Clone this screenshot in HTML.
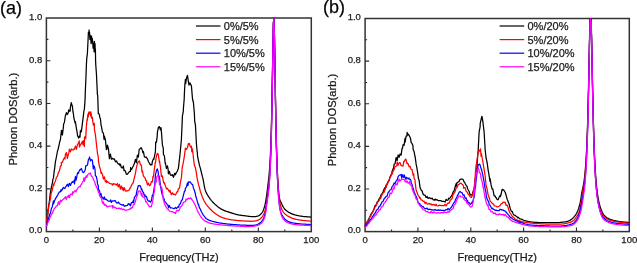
<!DOCTYPE html>
<html><head><meta charset="utf-8"><style>
html,body{margin:0;padding:0;background:#fff;}
svg{display:block;will-change:transform;}
text{font-family:"Liberation Sans",sans-serif;fill:#1a1a1a;stroke:#1a1a1a;stroke-width:0.25px;}
.frame{fill:none;stroke:#333;stroke-width:1.5;}
.tick{fill:none;stroke:#2b2b2b;stroke-width:1.1;}
.tl{font-size:9.5px;}
.lt{font-size:11px;}
.at{font-size:11.2px;}
.pl{font-size:18px;fill:#000;}
.cv path{fill:none;stroke-width:1.25;stroke-linejoin:round;}
.lg{stroke-width:1.2;}
</style></head><body>
<svg width="637" height="263" viewBox="0 0 637 263">
<rect width="637" height="263" fill="#fff"/>
<rect x="46.4" y="18.0" width="264.9" height="213.6" class="frame"/>
<path d="M72.89 231.60 V229.60 M99.38 231.60 V227.60 M125.87 231.60 V229.60 M152.36 231.60 V227.60 M178.85 231.60 V229.60 M205.34 231.60 V227.60 M231.83 231.60 V229.60 M258.32 231.60 V227.60 M284.81 231.60 V229.60 M46.40 210.24 H48.40 M46.40 188.88 H50.40 M46.40 167.52 H48.40 M46.40 146.16 H50.40 M46.40 124.80 H48.40 M46.40 103.44 H50.40 M46.40 82.08 H48.40 M46.40 60.72 H50.40 M46.40 39.36 H48.40" class="tick"/>
<text x="46.40" y="243.00" class="tl" text-anchor="middle">0</text>
<text x="99.38" y="243.00" class="tl" text-anchor="middle">20</text>
<text x="152.36" y="243.00" class="tl" text-anchor="middle">40</text>
<text x="205.34" y="243.00" class="tl" text-anchor="middle">60</text>
<text x="258.32" y="243.00" class="tl" text-anchor="middle">80</text>
<text x="311.30" y="243.00" class="tl" text-anchor="middle">100</text>
<text x="42.20" y="233.40" class="tl" text-anchor="end">0.0</text>
<text x="42.20" y="190.68" class="tl" text-anchor="end">0.2</text>
<text x="42.20" y="147.96" class="tl" text-anchor="end">0.4</text>
<text x="42.20" y="105.24" class="tl" text-anchor="end">0.6</text>
<text x="42.20" y="62.52" class="tl" text-anchor="end">0.8</text>
<text x="42.20" y="19.80" class="tl" text-anchor="end">1.0</text>
<rect x="365.1" y="18.5" width="264.2" height="213.1" class="frame"/>
<path d="M391.52 231.60 V229.60 M417.94 231.60 V227.60 M444.36 231.60 V229.60 M470.78 231.60 V227.60 M497.20 231.60 V229.60 M523.62 231.60 V227.60 M550.04 231.60 V229.60 M576.46 231.60 V227.60 M602.88 231.60 V229.60 M365.10 210.29 H367.10 M365.10 188.98 H369.10 M365.10 167.67 H367.10 M365.10 146.36 H369.10 M365.10 125.05 H367.10 M365.10 103.74 H369.10 M365.10 82.43 H367.10 M365.10 61.12 H369.10 M365.10 39.81 H367.10" class="tick"/>
<text x="365.10" y="243.00" class="tl" text-anchor="middle">0</text>
<text x="417.94" y="243.00" class="tl" text-anchor="middle">20</text>
<text x="470.78" y="243.00" class="tl" text-anchor="middle">40</text>
<text x="523.62" y="243.00" class="tl" text-anchor="middle">60</text>
<text x="576.46" y="243.00" class="tl" text-anchor="middle">80</text>
<text x="629.30" y="243.00" class="tl" text-anchor="middle">100</text>
<text x="360.90" y="233.40" class="tl" text-anchor="end">0.0</text>
<text x="360.90" y="190.78" class="tl" text-anchor="end">0.2</text>
<text x="360.90" y="148.16" class="tl" text-anchor="end">0.4</text>
<text x="360.90" y="105.54" class="tl" text-anchor="end">0.6</text>
<text x="360.90" y="62.92" class="tl" text-anchor="end">0.8</text>
<text x="360.90" y="20.30" class="tl" text-anchor="end">1.0</text>
<g class="cv"><path d="M46.4 221.8 L47.0 219.7 L47.4 217.7 L48.4 207.9 L49.0 203.9 L49.4 201.3 L50.4 192.4 L50.9 189.9 L51.4 187.2 L52.4 182.8 L52.9 179.4 L53.4 178.1 L54.4 169.5 L54.6 169.0 L55.4 161.9 L56.4 157.0 L57.4 151.5 L58.4 148.1 L59.4 143.3 L60.3 139.7 L60.4 140.0 L61.4 130.5 L61.8 130.6 L62.4 135.0 L63.4 126.9 L63.6 124.1 L64.4 122.4 L65.4 115.5 L65.6 115.3 L66.4 112.6 L66.6 112.6 L67.3 114.5 L67.4 114.4 L68.4 112.2 L68.7 109.9 L69.4 111.2 L70.1 111.1 L70.4 107.1 L71.3 102.7 L71.4 103.1 L72.2 105.9 L72.4 106.3 L73.0 112.0 L73.4 113.6 L73.8 117.7 L74.4 120.1 L75.2 123.3 L75.4 121.7 L76.4 128.3 L77.4 134.0 L77.5 135.8 L78.4 137.3 L78.6 138.1 L79.4 136.0 L80.0 137.3 L80.4 130.5 L81.0 132.0 L81.4 131.5 L82.4 123.3 L83.4 115.4 L83.8 111.7 L84.4 108.9 L85.0 100.9 L85.4 89.8 L86.0 76.0 L86.4 65.0 L86.7 58.9 L87.4 53.7 L88.2 36.7 L88.4 32.4 L88.7 34.7 L89.0 32.1 L89.1 30.0 L89.3 31.9 L89.6 32.7 L89.8 38.1 L89.9 39.4 L90.2 35.3 L90.5 38.7 L90.6 35.5 L90.8 39.2 L91.1 43.6 L91.4 40.5 L91.5 36.2 L91.7 39.6 L92.0 42.2 L92.3 38.6 L92.3 38.4 L92.6 41.5 L92.9 44.8 L93.1 48.1 L93.2 48.1 L93.5 47.4 L93.8 43.0 L94.1 51.8 L94.4 41.3 L94.6 43.7 L94.7 47.6 L95.0 43.5 L95.3 52.4 L95.4 49.0 L95.6 61.0 L95.8 65.2 L95.9 66.5 L96.4 73.5 L96.6 77.0 L97.4 94.7 L97.7 95.3 L98.3 113.5 L98.4 113.1 L99.4 114.6 L99.8 117.5 L100.4 118.7 L101.1 125.5 L101.4 126.2 L102.4 132.0 L103.4 133.1 L104.0 139.3 L104.4 136.2 L105.4 140.0 L106.4 149.6 L106.8 149.3 L107.4 145.1 L108.4 148.4 L109.4 158.6 L109.7 156.2 L110.4 154.2 L111.4 159.2 L112.4 158.3 L113.4 159.2 L114.4 158.9 L115.4 161.9 L116.4 160.9 L117.4 162.9 L118.4 164.2 L119.4 163.8 L120.1 165.7 L120.4 164.2 L121.4 167.7 L122.4 168.0 L123.4 166.0 L124.0 170.7 L124.4 170.1 L125.4 171.2 L126.4 174.4 L127.4 174.2 L128.4 172.8 L129.4 171.7 L130.4 171.5 L130.6 167.5 L131.4 169.7 L132.4 167.8 L133.4 165.8 L134.4 163.6 L135.4 159.3 L136.4 162.6 L137.4 155.2 L138.4 157.0 L139.2 149.3 L139.4 149.4 L140.4 148.5 L141.0 147.7 L141.4 147.9 L142.4 150.6 L143.0 152.9 L143.4 151.5 L144.4 156.8 L145.4 157.4 L146.4 157.1 L146.8 158.0 L147.4 158.8 L148.4 161.5 L149.4 163.2 L150.4 165.0 L150.6 164.3 L151.4 164.5 L151.9 164.9 L152.4 161.2 L153.4 159.0 L153.8 159.4 L154.4 156.6 L155.4 151.9 L155.7 142.2 L156.4 142.4 L157.2 136.3 L157.4 132.3 L158.4 127.3 L158.9 127.0 L159.4 126.6 L160.4 129.8 L161.0 127.7 L161.4 131.6 L162.4 144.8 L163.3 148.3 L163.4 154.5 L164.4 155.9 L165.2 163.5 L165.4 162.9 L166.4 168.5 L167.4 165.9 L168.1 169.2 L168.4 173.8 L169.4 171.4 L170.4 175.2 L171.4 175.0 L171.9 175.4 L172.4 174.7 L173.4 177.3 L174.4 174.0 L174.7 173.4 L175.4 174.8 L176.4 172.4 L177.4 171.4 L177.6 170.1 L178.4 168.4 L179.4 159.4 L179.5 158.9 L180.4 150.3 L181.4 139.5 L182.3 119.6 L182.4 116.1 L183.3 111.4 L183.4 108.8 L184.2 99.0 L184.4 93.3 L184.8 85.5 L185.4 79.5 L185.7 83.6 L186.4 78.5 L187.4 75.4 L187.5 75.6 L188.4 81.7 L189.0 85.2 L189.4 83.8 L189.9 82.8 L190.4 84.1 L191.4 85.6 L192.4 97.8 L192.8 100.3 L193.4 102.3 L194.1 110.4 L194.4 113.8 L194.7 121.6 L195.4 124.5 L196.4 143.3 L197.1 151.3 L197.4 152.7 L197.5 155.9 L198.4 160.3 L199.4 165.1 L200.4 168.4 L201.4 172.5 L202.4 176.7 L203.2 179.7 L203.4 181.0 L204.4 186.5 L204.9 188.9 L205.1 189.6 L205.4 190.5 L205.9 191.8 L206.4 192.9 L206.9 193.9 L207.4 194.8 L207.9 195.7 L208.4 196.4 L208.9 197.2 L209.4 197.9 L209.9 198.6 L210.4 199.3 L210.9 199.9 L211.4 200.6 L211.9 201.1 L212.4 201.7 L212.9 202.2 L213.4 202.7 L213.9 203.2 L214.4 203.7 L214.6 203.9 L214.9 204.2 L215.4 204.6 L215.9 205.1 L216.4 205.5 L216.9 205.9 L217.4 206.4 L217.9 206.8 L218.4 207.2 L218.9 207.5 L219.4 207.9 L219.9 208.2 L220.4 208.6 L220.9 208.9 L221.4 209.2 L221.9 209.4 L222.2 209.6 L222.4 209.7 L222.9 209.9 L223.4 210.2 L223.9 210.4 L224.4 210.6 L224.9 210.8 L225.4 210.9 L225.9 211.1 L226.4 211.3 L226.9 211.5 L227.4 211.6 L227.9 211.8 L228.4 211.9 L228.9 212.1 L229.4 212.3 L229.8 212.4 L229.9 212.4 L230.4 212.6 L230.9 212.8 L231.4 212.9 L231.9 213.1 L232.4 213.3 L232.9 213.4 L233.4 213.6 L233.9 213.7 L234.4 213.9 L234.9 214.0 L235.4 214.2 L235.9 214.3 L236.4 214.4 L236.9 214.6 L237.4 214.7 L237.5 214.7 L237.9 214.8 L238.4 214.9 L238.9 215.0 L239.4 215.0 L239.9 215.1 L240.4 215.2 L240.9 215.3 L241.4 215.3 L241.9 215.4 L242.4 215.5 L242.9 215.5 L243.4 215.6 L243.9 215.6 L244.4 215.7 L244.9 215.8 L245.1 215.8 L245.4 215.8 L245.9 215.9 L246.4 216.0 L246.9 216.1 L247.4 216.1 L247.9 216.2 L248.4 216.3 L248.9 216.3 L249.4 216.4 L249.9 216.4 L250.4 216.5 L250.9 216.5 L251.4 216.6 L251.9 216.6 L252.4 216.6 L252.7 216.6 L252.9 216.6 L253.4 216.6 L253.9 216.6 L254.4 216.6 L254.9 216.6 L255.4 216.5 L255.9 216.5 L256.4 216.4 L256.9 216.3 L257.4 216.2 L257.9 216.0 L258.4 215.8 L258.9 215.6 L259.4 215.2 L259.9 214.9 L260.4 214.5 L260.9 214.0 L261.4 213.4 L261.9 212.8 L262.2 212.4 L262.4 212.1 L262.9 211.2 L263.4 210.0 L263.9 208.6 L264.4 207.0 L264.9 205.2 L265.0 204.8 L265.4 203.0 L265.9 200.1 L266.4 196.8 L266.9 193.4 L267.4 189.5 L267.9 185.3 L268.3 182.0 L268.4 181.2 L268.9 176.8 L269.4 171.3 L269.9 164.2 L270.4 155.0 L270.9 142.5 L271.4 125.8 L271.9 103.8 L272.4 76.2 L272.9 46.3 L273.4 22.6 L273.9 18.0 L274.4 33.3 L274.9 63.1 L275.4 94.9 L275.9 122.3 L276.4 144.0 L276.9 160.4 L277.4 172.8 L277.9 182.1 L278.4 189.1 L278.7 192.5 L278.9 194.4 L279.4 197.9 L279.9 200.0 L280.4 201.4 L280.9 202.2 L281.4 203.1 L281.8 204.0 L281.9 204.3 L282.4 205.4 L282.9 206.4 L283.4 207.3 L283.9 208.0 L284.4 208.7 L284.9 209.2 L285.4 209.7 L285.9 210.2 L286.0 210.3 L286.4 210.6 L286.9 211.0 L287.4 211.4 L287.9 211.7 L288.4 212.1 L288.9 212.4 L289.4 212.7 L289.9 212.9 L290.4 213.2 L290.9 213.4 L291.4 213.7 L291.9 213.9 L292.4 214.1 L292.9 214.3 L293.3 214.4 L293.4 214.4 L293.9 214.6 L294.4 214.7 L294.9 214.9 L295.4 215.0 L295.9 215.1 L296.4 215.3 L296.9 215.4 L297.4 215.5 L297.9 215.6 L298.4 215.7 L298.9 215.8 L299.4 215.9 L299.9 216.0 L300.4 216.1 L300.9 216.1 L301.4 216.2 L301.9 216.3 L302.4 216.3 L302.9 216.4 L303.4 216.5 L303.8 216.5 L303.9 216.5 L304.4 216.6 L304.9 216.6 L305.4 216.6 L305.9 216.7 L306.4 216.7 L306.9 216.8 L307.4 216.8 L307.9 216.8 L308.4 216.9 L308.9 216.9 L309.4 216.9 L309.9 217.0 L310.4 217.0 L310.9 217.0 L311.0 217.0" stroke="#000000"/>
<path d="M46.4 222.4 L47.4 215.7 L48.4 210.6 L48.9 204.7 L49.4 203.5 L50.4 198.6 L51.4 192.0 L51.7 191.7 L52.4 189.5 L53.4 184.3 L53.6 185.9 L54.4 183.0 L55.4 181.2 L56.4 177.4 L57.4 176.4 L58.4 172.4 L59.4 171.1 L60.4 166.2 L61.2 166.0 L61.4 162.3 L62.4 162.4 L63.4 159.5 L64.4 157.7 L65.0 158.9 L65.4 154.3 L66.4 152.6 L67.4 158.3 L68.4 154.0 L68.8 153.2 L69.4 149.1 L70.4 151.8 L71.4 149.0 L72.4 149.9 L73.4 149.8 L74.4 148.4 L74.5 149.2 L75.4 146.1 L76.4 149.3 L77.4 144.7 L78.4 143.3 L79.3 140.9 L79.4 147.1 L80.4 144.8 L81.4 143.5 L82.4 141.3 L83.0 144.9 L83.4 140.7 L84.4 146.5 L84.5 137.5 L85.4 136.4 L85.7 138.6 L86.4 126.1 L87.1 119.0 L87.4 120.3 L87.6 116.8 L87.9 114.2 L88.2 117.1 L88.5 115.1 L88.5 115.3 L88.8 112.1 L89.1 113.6 L89.4 112.3 L89.7 112.0 L89.7 111.8 L90.0 114.3 L90.3 114.2 L90.6 115.9 L90.9 111.8 L91.0 115.9 L91.2 113.5 L91.5 117.5 L91.8 118.1 L92.4 117.2 L92.6 120.1 L93.4 125.2 L93.5 123.7 L94.3 123.4 L94.4 129.3 L95.4 134.6 L96.4 143.9 L97.4 152.8 L98.3 157.1 L98.4 160.6 L99.4 166.3 L100.4 169.6 L101.1 173.3 L101.4 172.2 L102.4 174.2 L103.4 179.0 L104.4 176.8 L105.4 181.8 L106.4 180.6 L106.8 182.5 L107.4 181.6 L108.4 182.2 L109.4 183.4 L110.4 183.7 L111.4 183.9 L112.4 184.4 L112.5 185.1 L113.4 183.6 L114.4 184.1 L115.4 184.2 L116.4 185.1 L117.4 183.5 L118.2 186.9 L118.4 186.5 L119.4 184.3 L120.4 189.0 L121.4 186.0 L122.4 189.5 L123.0 187.7 L123.4 190.7 L124.4 187.8 L125.4 191.0 L126.4 191.1 L126.8 190.7 L127.4 190.9 L128.4 190.5 L129.4 189.8 L130.4 187.4 L130.6 187.6 L131.4 185.4 L132.4 183.7 L133.4 182.5 L133.5 181.2 L134.4 177.6 L135.4 173.6 L136.3 168.2 L136.4 167.8 L137.4 163.6 L138.4 161.6 L139.2 161.2 L139.4 160.8 L140.4 164.9 L141.4 165.2 L142.0 172.0 L142.4 170.9 L143.4 175.8 L144.4 177.3 L145.4 178.5 L145.8 180.5 L146.4 180.5 L147.4 184.9 L148.4 183.1 L149.4 185.7 L149.6 185.2 L150.4 185.1 L151.4 181.5 L152.4 181.9 L152.9 176.6 L153.4 177.0 L154.4 168.6 L155.3 162.4 L155.4 162.8 L156.4 156.2 L157.4 153.3 L157.6 153.3 L158.4 155.3 L159.4 162.3 L159.5 160.9 L160.4 166.9 L161.4 176.6 L162.4 175.9 L163.4 181.9 L164.3 183.6 L164.4 182.7 L165.4 186.1 L166.2 187.9 L166.4 189.0 L167.4 188.4 L168.4 190.0 L169.4 191.9 L170.0 190.2 L170.4 192.0 L171.4 194.7 L172.4 192.7 L173.4 194.5 L173.8 194.2 L174.4 194.3 L175.4 195.0 L176.4 193.0 L177.4 191.2 L177.6 191.8 L178.4 188.8 L179.4 188.0 L179.5 188.2 L180.4 182.1 L181.4 177.9 L182.3 166.5 L182.4 167.0 L183.4 162.1 L184.4 155.8 L185.2 149.8 L185.4 148.1 L186.4 149.5 L187.4 147.7 L188.4 143.5 L189.0 144.5 L189.4 143.5 L190.4 147.2 L191.4 146.2 L191.8 151.8 L192.4 148.8 L193.4 157.8 L194.4 165.4 L194.7 165.8 L195.4 167.7 L196.4 173.1 L197.4 180.0 L197.5 180.0 L198.4 184.2 L199.4 187.7 L200.4 191.5 L201.4 194.4 L202.4 197.3 L203.4 199.2 L204.2 201.0 L204.4 201.4 L204.9 202.2 L205.4 203.0 L205.9 203.8 L206.4 204.6 L206.9 205.2 L207.4 205.9 L207.9 206.5 L208.4 207.1 L208.9 207.7 L209.4 208.3 L209.9 208.8 L210.4 209.3 L210.9 209.8 L211.4 210.3 L211.9 210.8 L212.4 211.2 L212.9 211.7 L213.4 212.1 L213.9 212.5 L214.4 212.9 L214.6 213.0 L214.9 213.2 L215.4 213.6 L215.9 213.9 L216.4 214.3 L216.9 214.6 L217.4 215.0 L217.9 215.3 L218.4 215.6 L218.9 215.9 L219.4 216.2 L219.9 216.5 L220.4 216.7 L220.9 217.0 L221.4 217.2 L221.9 217.4 L222.2 217.5 L222.4 217.6 L222.9 217.8 L223.4 217.9 L223.9 218.1 L224.4 218.2 L224.9 218.4 L225.4 218.5 L225.9 218.7 L226.4 218.8 L226.9 218.9 L227.4 219.0 L227.9 219.1 L228.4 219.2 L228.9 219.3 L229.4 219.4 L229.8 219.5 L229.9 219.5 L230.4 219.6 L230.9 219.7 L231.4 219.8 L231.9 219.8 L232.4 219.9 L232.9 220.0 L233.4 220.0 L233.9 220.1 L234.4 220.2 L234.9 220.2 L235.4 220.3 L235.9 220.3 L236.4 220.4 L236.9 220.4 L237.4 220.5 L237.5 220.5 L237.9 220.5 L238.4 220.6 L238.9 220.6 L239.4 220.7 L239.9 220.7 L240.4 220.7 L240.9 220.8 L241.4 220.8 L241.9 220.8 L242.4 220.9 L242.9 220.9 L243.4 220.9 L243.9 220.9 L244.4 221.0 L244.9 221.0 L245.1 221.0 L245.4 221.0 L245.9 221.0 L246.4 221.1 L246.9 221.1 L247.4 221.1 L247.9 221.2 L248.4 221.2 L248.9 221.2 L249.4 221.2 L249.9 221.3 L250.4 221.3 L250.9 221.3 L251.4 221.3 L251.9 221.2 L252.4 221.2 L252.7 221.2 L252.9 221.2 L253.4 221.1 L253.9 221.1 L254.4 221.0 L254.9 221.0 L255.4 220.9 L255.9 220.8 L256.4 220.7 L256.9 220.5 L257.4 220.4 L257.9 220.2 L258.4 220.0 L258.9 219.7 L259.4 219.4 L259.9 219.1 L260.4 218.7 L260.9 218.2 L261.4 217.7 L261.9 217.1 L262.4 216.4 L262.9 215.6 L263.1 215.3 L263.4 214.8 L263.9 213.7 L264.4 212.5 L264.9 211.0 L265.4 209.2 L265.9 207.2 L266.0 206.7 L266.4 204.2 L266.9 200.0 L267.4 195.4 L267.9 191.5 L268.4 187.9 L268.9 183.4 L269.4 177.7 L269.9 170.3 L270.4 160.5 L270.9 147.5 L271.4 130.1 L271.9 107.2 L272.4 78.6 L272.9 47.6 L273.4 22.9 L273.9 18.0 L274.4 32.7 L274.9 62.7 L275.4 94.7 L275.9 122.3 L276.4 144.0 L276.9 160.4 L277.4 172.9 L277.9 182.2 L278.4 189.4 L278.9 194.9 L279.1 196.7 L279.4 199.1 L279.9 202.3 L280.4 204.7 L280.9 206.6 L281.4 208.1 L281.8 209.2 L281.9 209.5 L282.4 210.6 L282.9 211.5 L283.4 212.2 L283.9 212.9 L284.4 213.4 L284.9 213.9 L285.4 214.3 L285.9 214.7 L286.4 215.1 L286.9 215.4 L287.0 215.5 L287.4 215.8 L287.9 216.1 L288.4 216.4 L288.9 216.7 L289.4 216.9 L289.9 217.2 L290.4 217.4 L290.9 217.7 L291.4 217.9 L291.9 218.1 L292.4 218.3 L292.9 218.5 L293.4 218.6 L293.9 218.8 L294.4 218.9 L294.9 219.1 L295.4 219.2 L295.9 219.3 L296.4 219.4 L296.9 219.5 L297.4 219.6 L297.9 219.7 L298.4 219.8 L298.9 219.9 L299.4 220.0 L299.9 220.0 L300.4 220.1 L300.9 220.2 L301.4 220.2 L301.9 220.3 L302.4 220.4 L302.9 220.4 L303.4 220.5 L303.9 220.5 L304.4 220.6 L304.9 220.6 L305.4 220.7 L305.9 220.7 L306.4 220.8 L306.9 220.8 L307.4 220.9 L307.9 220.9 L308.4 220.9 L308.9 221.0 L309.4 221.0 L309.9 221.0 L310.4 221.1 L310.9 221.1 L311.0 221.1" stroke="#ff0000"/>
<path d="M46.4 226.3 L47.4 221.6 L48.4 219.0 L49.4 215.5 L49.8 214.2 L50.4 213.1 L51.4 208.6 L52.4 206.4 L53.4 200.9 L53.6 203.9 L54.4 201.3 L55.4 198.8 L56.4 197.2 L57.4 195.7 L58.4 193.6 L59.4 191.9 L60.4 191.8 L61.2 189.5 L61.4 191.0 L62.4 189.4 L63.4 187.4 L64.4 188.4 L65.0 188.4 L65.4 187.2 L66.4 185.9 L67.4 184.2 L68.4 186.5 L68.8 184.9 L69.4 183.3 L70.4 185.4 L71.4 183.1 L72.4 181.6 L72.6 182.4 L73.4 182.0 L74.4 180.0 L74.5 183.9 L75.4 176.5 L76.0 180.2 L76.4 178.9 L77.4 173.3 L78.1 172.4 L78.4 173.4 L79.4 170.4 L80.0 169.7 L80.4 169.9 L81.4 168.4 L82.4 171.6 L83.3 172.5 L83.4 172.3 L84.4 171.9 L85.4 169.1 L85.7 165.9 L86.4 165.7 L87.4 164.9 L87.6 164.5 L88.4 159.6 L89.4 158.1 L89.5 157.0 L90.4 160.4 L90.5 160.9 L91.4 159.6 L91.9 159.7 L92.4 160.6 L93.3 168.9 L93.4 165.4 L94.4 166.7 L95.0 169.3 L95.4 175.8 L96.4 176.5 L97.3 181.4 L97.4 183.4 L98.3 185.7 L98.4 189.9 L99.4 190.4 L100.4 195.0 L101.1 193.7 L101.4 196.4 L102.4 197.3 L103.4 199.1 L104.4 196.9 L104.9 199.3 L105.4 199.1 L106.4 199.4 L107.4 200.5 L108.4 201.2 L109.4 201.2 L110.4 201.2 L110.6 199.8 L111.4 202.5 L112.4 200.8 L113.4 201.0 L114.4 200.7 L115.4 200.9 L116.4 202.8 L117.4 203.1 L118.2 202.2 L118.4 202.2 L119.4 203.5 L120.4 204.2 L121.4 204.8 L122.0 204.5 L122.4 205.2 L123.4 204.7 L124.4 206.3 L125.4 205.7 L125.8 205.8 L126.4 205.7 L127.4 205.5 L128.4 203.6 L129.4 204.6 L129.7 204.0 L130.4 205.8 L131.4 202.7 L132.4 202.6 L133.4 200.5 L133.5 202.7 L134.4 197.4 L135.4 196.0 L136.3 195.0 L136.4 193.2 L137.4 189.0 L138.2 186.0 L138.4 185.7 L139.4 185.5 L139.5 185.9 L140.4 185.9 L141.4 189.5 L142.0 189.2 L142.4 191.6 L143.4 192.2 L144.4 196.0 L144.9 194.9 L145.4 196.6 L146.4 196.4 L147.4 199.7 L148.4 201.2 L148.7 201.2 L149.4 201.0 L150.4 202.1 L150.6 202.0 L151.4 200.6 L152.4 195.1 L152.9 195.9 L153.4 192.5 L154.4 186.8 L154.8 183.6 L155.4 175.2 L155.7 173.6 L156.4 170.9 L157.2 168.9 L157.4 169.2 L158.2 171.9 L158.4 174.7 L159.4 176.9 L159.5 177.6 L160.4 185.2 L161.4 191.0 L162.4 195.3 L163.4 197.8 L164.3 199.3 L164.4 200.8 L165.4 202.1 L166.4 203.3 L167.4 205.0 L168.1 205.0 L168.4 207.8 L169.4 205.6 L170.4 208.0 L171.4 207.8 L172.4 208.0 L173.4 208.5 L173.8 208.6 L174.4 208.6 L175.4 207.5 L176.4 208.6 L177.4 207.4 L178.4 206.3 L178.5 207.3 L179.4 204.2 L180.4 203.9 L181.4 200.3 L182.3 200.0 L182.4 199.1 L183.4 195.3 L184.4 191.5 L185.2 190.5 L185.4 188.4 L186.4 187.0 L187.4 183.2 L188.0 185.5 L188.4 181.9 L189.4 182.2 L189.9 181.9 L190.4 182.0 L191.4 184.0 L192.4 184.3 L192.8 185.1 L193.4 187.9 L194.4 190.5 L195.4 193.8 L195.6 195.7 L196.4 198.0 L197.4 201.6 L198.4 205.0 L198.5 204.2 L199.4 207.7 L200.4 209.3 L201.4 211.8 L202.3 213.3 L202.4 213.6 L203.4 215.1 L204.4 216.5 L204.9 217.2 L205.4 217.7 L205.9 218.2 L206.4 218.7 L206.9 219.0 L207.0 219.1 L207.4 219.3 L207.9 219.6 L208.4 219.9 L208.9 220.1 L209.4 220.3 L209.9 220.5 L210.4 220.7 L210.9 220.9 L211.4 221.0 L211.9 221.2 L212.4 221.3 L212.9 221.5 L213.4 221.6 L213.9 221.7 L214.4 221.9 L214.6 221.9 L214.9 222.0 L215.4 222.1 L215.9 222.2 L216.4 222.3 L216.9 222.4 L217.4 222.5 L217.9 222.6 L218.4 222.7 L218.9 222.8 L219.4 222.9 L219.9 223.0 L220.4 223.0 L220.9 223.1 L221.4 223.2 L221.9 223.3 L222.4 223.3 L222.9 223.4 L223.4 223.5 L223.9 223.5 L224.4 223.6 L224.9 223.7 L225.4 223.7 L225.9 223.8 L226.0 223.8 L226.4 223.8 L226.9 223.9 L227.4 224.0 L227.9 224.0 L228.4 224.1 L228.9 224.1 L229.4 224.2 L229.9 224.2 L230.4 224.3 L230.9 224.3 L231.4 224.3 L231.9 224.4 L232.4 224.4 L232.9 224.5 L233.4 224.5 L233.9 224.5 L234.4 224.6 L234.9 224.6 L235.4 224.6 L235.9 224.7 L236.4 224.7 L236.9 224.8 L237.4 224.8 L237.5 224.8 L237.9 224.8 L238.4 224.9 L238.9 224.9 L239.4 224.9 L239.9 225.0 L240.4 225.0 L240.9 225.0 L241.4 225.0 L241.9 225.1 L242.4 225.1 L242.9 225.1 L243.4 225.1 L243.9 225.2 L244.4 225.2 L244.9 225.2 L245.4 225.2 L245.9 225.2 L246.4 225.3 L246.9 225.3 L247.4 225.3 L247.9 225.3 L248.4 225.3 L248.9 225.3 L249.4 225.3 L249.9 225.3 L250.4 225.3 L250.9 225.3 L251.4 225.4 L251.9 225.4 L252.4 225.4 L252.9 225.4 L253.4 225.3 L253.9 225.3 L254.4 225.2 L254.9 225.2 L255.4 225.1 L255.9 225.0 L256.4 224.8 L256.5 224.8 L256.9 224.7 L257.4 224.5 L257.9 224.2 L258.4 224.0 L258.9 223.7 L259.4 223.4 L259.9 223.0 L260.4 222.6 L260.9 222.2 L261.2 221.9 L261.4 221.7 L261.9 221.1 L262.4 220.4 L262.9 219.6 L263.4 218.6 L263.9 217.5 L264.4 216.1 L264.9 214.6 L265.0 214.3 L265.4 212.5 L265.9 209.2 L266.4 205.2 L266.9 201.3 L267.4 197.8 L267.5 197.2 L267.9 194.8 L268.4 191.1 L268.9 186.7 L269.4 180.9 L269.9 173.5 L270.4 163.7 L270.9 150.5 L271.4 132.8 L271.9 109.5 L272.4 80.5 L272.9 48.9 L273.4 23.8 L273.9 18.0 L274.4 34.1 L274.9 64.7 L275.4 97.4 L275.9 125.7 L276.4 147.9 L276.9 164.8 L277.4 177.6 L277.9 187.3 L278.4 194.7 L278.9 200.5 L279.4 204.9 L279.7 207.1 L279.9 208.4 L280.4 210.9 L280.9 212.6 L281.4 213.9 L281.9 214.9 L282.4 215.7 L282.9 216.5 L283.4 217.3 L283.9 218.0 L284.4 218.6 L284.9 219.2 L285.4 219.6 L285.9 220.0 L286.4 220.4 L286.9 220.7 L287.4 221.0 L287.9 221.3 L288.4 221.5 L288.9 221.7 L289.1 221.8 L289.4 221.9 L289.9 222.1 L290.4 222.3 L290.9 222.4 L291.4 222.6 L291.9 222.7 L292.4 222.8 L292.9 222.9 L293.4 223.0 L293.9 223.1 L294.4 223.2 L294.9 223.2 L295.4 223.3 L295.9 223.4 L296.4 223.4 L296.9 223.5 L297.4 223.6 L297.9 223.6 L298.4 223.7 L298.9 223.7 L299.4 223.8 L299.6 223.8 L299.9 223.8 L300.4 223.9 L300.9 223.9 L301.4 224.0 L301.9 224.0 L302.4 224.0 L302.9 224.1 L303.4 224.1 L303.9 224.1 L304.4 224.2 L304.9 224.2 L305.4 224.2 L305.9 224.3 L306.4 224.3 L306.9 224.3 L307.4 224.3 L307.9 224.4 L308.4 224.4 L308.9 224.4 L309.4 224.4 L309.9 224.5 L310.4 224.5 L310.9 224.5 L311.0 224.5" stroke="#0000ff"/>
<path d="M46.4 226.6 L47.4 223.5 L48.4 221.4 L49.4 219.6 L49.8 217.7 L50.4 216.9 L51.4 214.3 L52.4 213.3 L53.4 210.2 L53.6 210.4 L54.4 208.3 L55.4 207.8 L56.4 205.8 L57.4 205.8 L58.4 201.6 L59.4 204.6 L60.4 200.1 L61.2 201.6 L61.4 201.2 L62.4 200.0 L63.4 199.3 L64.4 197.8 L65.0 198.2 L65.4 196.6 L66.4 199.3 L67.4 196.1 L68.4 197.1 L68.8 195.2 L69.4 197.8 L70.4 194.4 L71.4 193.9 L72.4 194.8 L72.6 191.8 L73.4 193.0 L74.4 191.1 L75.4 190.7 L76.0 191.9 L76.4 190.3 L77.4 188.9 L78.4 187.2 L79.4 186.5 L80.2 187.0 L80.4 185.7 L81.4 184.4 L82.1 182.9 L82.4 182.2 L83.4 180.9 L84.0 177.7 L84.4 181.3 L85.4 177.9 L86.4 175.9 L86.9 177.4 L87.4 175.2 L88.4 174.1 L89.4 173.4 L90.1 173.6 L90.4 173.0 L91.4 176.2 L92.4 176.9 L93.4 179.0 L93.5 179.8 L94.4 181.3 L95.4 184.6 L96.4 186.6 L97.4 188.6 L98.4 192.4 L99.2 191.9 L99.4 195.1 L100.4 197.3 L101.4 197.7 L102.4 202.9 L103.0 203.6 L103.4 201.8 L104.4 205.2 L105.4 204.4 L106.4 206.5 L106.8 205.7 L107.4 206.8 L108.4 206.6 L109.4 206.2 L110.4 206.1 L111.4 206.0 L112.4 205.6 L112.5 208.1 L113.4 206.0 L114.4 207.8 L115.4 207.3 L116.4 208.5 L117.4 208.3 L118.2 208.1 L118.4 208.6 L119.4 208.1 L120.4 209.1 L121.4 208.2 L122.4 209.6 L123.4 209.4 L124.0 209.1 L124.4 209.8 L125.4 210.1 L126.4 210.1 L126.8 210.1 L127.4 210.0 L128.4 209.7 L129.4 209.3 L130.4 208.4 L130.6 209.1 L131.4 207.6 L132.4 207.9 L133.4 204.3 L134.4 204.3 L135.4 201.3 L136.4 197.7 L137.3 195.6 L137.4 195.2 L138.4 191.7 L139.2 190.7 L139.4 190.8 L140.4 191.2 L141.4 195.7 L142.0 193.2 L142.4 196.8 L143.4 197.3 L144.4 197.4 L145.4 199.9 L145.8 201.8 L146.4 201.7 L147.4 203.5 L148.4 205.2 L149.4 206.8 L149.6 206.7 L150.4 206.5 L151.4 206.6 L151.5 206.0 L152.4 202.2 L152.9 200.2 L153.4 196.1 L154.4 191.2 L154.8 185.8 L155.4 182.4 L156.3 182.1 L156.4 177.6 L157.4 176.0 L158.0 175.3 L158.4 176.4 L159.4 183.2 L159.5 184.6 L160.4 185.5 L161.4 187.2 L162.0 188.4 L162.4 191.2 L163.3 199.9 L163.4 198.5 L164.4 203.8 L165.4 205.6 L166.4 207.5 L167.1 208.7 L167.4 209.0 L168.4 209.6 L169.4 211.0 L170.4 211.4 L171.4 211.7 L172.4 211.7 L173.4 212.4 L173.8 212.3 L174.4 212.4 L175.4 213.5 L176.4 211.1 L177.4 210.3 L178.4 211.0 L178.5 210.7 L179.4 209.9 L180.4 207.0 L181.4 206.1 L182.3 204.8 L182.4 204.6 L183.4 202.5 L184.4 201.8 L185.4 201.7 L186.1 199.0 L186.4 200.0 L187.4 199.4 L188.4 198.1 L189.4 198.7 L190.4 198.5 L190.5 197.8 L191.4 198.6 L192.4 200.4 L193.4 201.7 L193.7 201.7 L194.4 204.1 L195.4 205.2 L196.4 208.3 L196.6 208.7 L197.4 210.6 L198.4 212.6 L199.4 214.3 L200.4 216.1 L201.4 217.5 L202.4 218.7 L203.4 219.8 L204.4 220.5 L204.9 220.9 L205.1 221.0 L205.4 221.2 L205.9 221.4 L206.4 221.7 L206.9 221.9 L207.4 222.2 L207.9 222.4 L208.4 222.6 L208.9 222.8 L209.4 222.9 L209.9 223.1 L210.4 223.3 L210.9 223.4 L211.4 223.5 L211.9 223.6 L212.4 223.7 L212.7 223.8 L212.9 223.8 L213.4 223.9 L213.9 224.0 L214.4 224.1 L214.9 224.2 L215.4 224.2 L215.9 224.3 L216.4 224.4 L216.9 224.4 L217.4 224.5 L217.9 224.6 L218.4 224.6 L218.9 224.7 L219.4 224.7 L219.9 224.8 L220.4 224.8 L220.9 224.9 L221.4 224.9 L221.9 224.9 L222.4 225.0 L222.9 225.0 L223.4 225.1 L223.9 225.1 L224.4 225.2 L224.9 225.2 L225.4 225.2 L225.9 225.3 L226.0 225.3 L226.4 225.3 L226.9 225.4 L227.4 225.4 L227.9 225.5 L228.4 225.5 L228.9 225.5 L229.4 225.6 L229.9 225.6 L230.4 225.6 L230.9 225.7 L231.4 225.7 L231.9 225.8 L232.4 225.8 L232.9 225.8 L233.4 225.8 L233.9 225.9 L234.4 225.9 L234.9 225.9 L235.4 226.0 L235.9 226.0 L236.4 226.0 L236.9 226.1 L237.4 226.1 L237.5 226.1 L237.9 226.1 L238.4 226.2 L238.9 226.2 L239.4 226.2 L239.9 226.2 L240.4 226.3 L240.9 226.3 L241.4 226.3 L241.9 226.3 L242.4 226.4 L242.9 226.4 L243.4 226.4 L243.9 226.4 L244.4 226.5 L244.9 226.5 L245.4 226.5 L245.9 226.5 L246.4 226.5 L246.9 226.5 L247.4 226.5 L247.9 226.5 L248.4 226.5 L248.9 226.5 L249.4 226.5 L249.9 226.5 L250.4 226.5 L250.9 226.4 L251.4 226.4 L251.9 226.4 L252.4 226.4 L252.9 226.3 L253.4 226.3 L253.9 226.2 L254.4 226.1 L254.9 226.1 L255.4 226.0 L255.9 225.9 L256.4 225.7 L256.5 225.7 L256.9 225.6 L257.4 225.4 L257.9 225.3 L258.4 225.1 L258.9 224.8 L259.4 224.6 L259.9 224.3 L260.4 224.0 L260.9 223.6 L261.2 223.4 L261.4 223.2 L261.9 222.7 L262.4 222.0 L262.9 221.3 L263.4 220.3 L263.9 219.2 L264.4 218.0 L264.9 216.5 L265.0 216.2 L265.4 214.4 L265.9 211.1 L266.4 207.2 L266.9 203.2 L267.4 199.7 L267.5 199.1 L267.9 196.6 L268.4 193.0 L268.9 188.4 L269.4 182.6 L269.9 175.0 L270.4 165.0 L270.9 151.6 L271.4 133.7 L271.9 110.2 L272.4 80.8 L272.9 48.9 L273.4 23.6 L273.9 18.0 L274.4 33.6 L274.9 64.2 L275.4 97.0 L275.9 125.3 L276.4 147.6 L276.9 164.5 L277.4 177.3 L277.9 187.0 L278.4 194.5 L278.9 200.3 L279.4 204.9 L279.9 208.5 L280.4 211.3 L280.9 213.5 L281.4 215.2 L281.9 216.5 L282.4 217.5 L282.9 218.4 L283.4 219.1 L283.9 219.7 L284.4 220.3 L284.9 220.8 L285.4 221.2 L285.9 221.6 L286.4 222.0 L286.9 222.2 L287.4 222.5 L287.9 222.7 L288.4 222.9 L288.9 223.1 L289.4 223.3 L289.9 223.4 L290.4 223.6 L290.9 223.7 L291.2 223.8 L291.4 223.9 L291.9 224.0 L292.4 224.1 L292.9 224.2 L293.4 224.3 L293.9 224.4 L294.4 224.5 L294.9 224.5 L295.4 224.6 L295.9 224.7 L296.4 224.7 L296.9 224.8 L297.4 224.8 L297.9 224.9 L298.4 224.9 L298.9 224.9 L299.4 225.0 L299.9 225.0 L300.4 225.1 L300.9 225.1 L301.4 225.1 L301.9 225.1 L302.4 225.2 L302.9 225.2 L303.4 225.2 L303.9 225.2 L304.4 225.3 L304.9 225.3 L305.4 225.3 L305.9 225.3 L306.4 225.3 L306.9 225.4 L307.4 225.4 L307.9 225.4 L308.4 225.4 L308.9 225.4 L309.4 225.4 L309.9 225.5 L310.4 225.5 L310.9 225.5 L311.0 225.5" stroke="#ff00ff"/>
<path d="M365.1 225.8 L365.2 225.4 L366.1 223.8 L367.1 221.9 L368.1 220.3 L369.1 218.4 L370.1 216.5 L370.3 215.7 L371.1 214.1 L372.1 212.7 L373.1 211.0 L374.1 208.5 L375.1 205.5 L376.1 204.8 L376.6 204.4 L377.1 202.1 L378.1 201.3 L379.1 198.9 L380.1 197.2 L380.7 196.2 L381.1 194.7 L382.1 193.6 L383.1 191.8 L384.1 189.1 L384.9 187.6 L385.1 189.1 L386.1 185.1 L387.1 184.3 L388.1 181.4 L389.1 180.5 L390.1 176.6 L390.2 177.0 L391.1 174.7 L391.7 173.5 L392.1 171.3 L393.1 169.1 L393.7 167.2 L394.1 164.3 L395.1 163.7 L396.1 157.7 L397.0 158.0 L397.1 160.6 L398.1 155.0 L399.1 157.3 L400.1 154.0 L400.5 154.2 L401.1 155.2 L402.1 148.1 L402.5 148.1 L403.1 144.7 L404.1 145.3 L405.0 138.4 L405.1 142.1 L406.1 136.2 L407.0 135.9 L407.1 132.4 L408.1 134.9 L408.5 134.4 L409.1 135.5 L410.1 137.3 L410.7 139.3 L411.1 142.3 L412.1 143.7 L413.0 145.7 L413.1 149.4 L414.1 151.6 L415.0 156.7 L415.1 156.3 L416.1 163.9 L416.7 166.9 L417.1 169.2 L418.1 175.7 L418.5 178.8 L419.1 180.3 L420.1 187.8 L420.5 188.3 L421.1 190.1 L422.1 190.9 L422.9 193.9 L423.1 194.0 L424.1 195.2 L425.1 195.2 L426.1 197.4 L426.7 197.4 L427.1 196.4 L428.1 198.5 L429.1 197.7 L430.1 198.1 L431.1 198.8 L431.4 198.5 L432.1 198.1 L433.1 199.8 L434.1 199.8 L435.0 200.1 L435.1 199.1 L436.1 199.9 L437.1 199.7 L438.1 200.5 L439.0 200.5 L439.1 200.6 L440.1 200.7 L441.1 200.7 L442.1 201.4 L443.1 201.3 L443.8 201.3 L444.1 201.4 L445.1 202.1 L446.1 199.3 L447.1 200.4 L448.1 200.0 L448.6 198.2 L449.1 198.9 L450.1 197.8 L451.1 196.3 L452.1 194.8 L453.1 192.3 L453.3 191.6 L454.1 191.0 L455.1 187.0 L456.1 183.7 L456.2 186.4 L457.1 182.5 L458.1 182.2 L459.0 181.6 L459.1 181.1 L460.1 179.4 L461.1 179.2 L461.9 179.1 L462.1 179.0 L463.1 179.5 L464.1 181.9 L464.7 182.3 L465.1 183.5 L466.1 185.3 L467.1 186.5 L467.6 188.8 L468.1 189.7 L469.1 191.4 L470.1 194.7 L471.1 195.1 L471.4 195.1 L472.1 194.6 L473.1 191.6 L474.1 189.5 L474.2 189.5 L475.1 179.7 L476.1 173.4 L476.8 171.4 L477.1 164.5 L478.0 152.0 L478.1 151.6 L479.1 132.1 L480.1 126.9 L480.2 123.5 L481.1 119.6 L481.8 116.4 L482.1 116.9 L483.1 123.2 L483.2 124.5 L484.1 131.7 L485.0 146.8 L485.1 149.1 L486.1 158.4 L486.2 158.3 L487.1 162.4 L488.1 169.8 L489.1 175.6 L490.0 181.4 L490.1 178.5 L491.1 184.9 L492.1 189.0 L492.8 189.0 L493.1 190.4 L494.1 195.8 L495.1 195.9 L495.7 197.5 L496.1 197.6 L497.1 199.5 L497.8 199.8 L498.1 199.7 L499.1 197.2 L500.1 195.5 L500.4 196.6 L501.1 194.3 L502.1 189.3 L503.1 190.1 L503.3 189.8 L504.1 190.5 L505.1 192.2 L505.2 192.2 L506.1 195.2 L507.1 199.2 L508.0 201.0 L508.1 201.8 L509.1 204.0 L510.1 208.2 L511.1 210.8 L511.8 211.7 L512.1 211.3 L513.1 213.8 L514.1 215.1 L515.1 215.3 L516.1 216.2 L517.1 216.7 L517.5 217.8 L518.1 217.3 L519.1 218.2 L520.1 219.0 L521.1 219.2 L522.1 219.4 L523.1 220.0 L524.1 220.4 L525.1 220.7 L526.1 220.9 L527.1 221.2 L528.1 221.4 L529.1 221.6 L529.6 221.7 L530.1 221.8 L530.6 221.9 L531.1 221.9 L531.6 222.0 L532.1 222.1 L532.6 222.1 L533.1 222.2 L533.6 222.2 L534.1 222.3 L534.6 222.3 L535.1 222.3 L535.6 222.4 L536.1 222.4 L536.6 222.4 L537.1 222.4 L537.6 222.4 L538.1 222.5 L538.6 222.5 L539.1 222.5 L539.6 222.5 L540.1 222.5 L540.6 222.5 L541.1 222.5 L541.6 222.5 L542.1 222.5 L542.6 222.6 L543.1 222.6 L543.6 222.6 L544.1 222.6 L544.6 222.6 L545.1 222.6 L545.6 222.6 L546.0 222.6 L546.1 222.6 L546.6 222.6 L547.1 222.6 L547.6 222.6 L548.1 222.6 L548.6 222.7 L549.1 222.7 L549.6 222.7 L550.1 222.7 L550.6 222.7 L551.1 222.7 L551.6 222.7 L552.1 222.7 L552.6 222.7 L553.1 222.7 L553.6 222.7 L554.1 222.7 L554.6 222.7 L555.1 222.7 L555.6 222.7 L556.1 222.7 L556.6 222.6 L557.1 222.6 L557.5 222.6 L557.6 222.6 L558.1 222.6 L558.6 222.5 L559.1 222.5 L559.6 222.5 L560.1 222.4 L560.6 222.4 L561.1 222.3 L561.6 222.3 L562.1 222.2 L562.6 222.2 L563.1 222.1 L563.6 222.1 L564.1 222.0 L564.6 221.9 L565.1 221.8 L565.6 221.8 L566.1 221.7 L566.6 221.6 L567.0 221.5 L567.1 221.5 L567.6 221.3 L568.1 221.2 L568.6 221.0 L569.1 220.7 L569.6 220.5 L570.1 220.2 L570.6 219.9 L571.1 219.5 L571.6 219.2 L572.1 218.8 L572.6 218.4 L572.7 218.3 L573.1 217.9 L573.6 217.5 L574.1 216.9 L574.6 216.3 L575.1 215.6 L575.6 214.9 L576.1 214.1 L576.6 213.2 L577.1 212.2 L577.4 211.6 L577.6 211.2 L578.1 209.9 L578.6 208.5 L579.1 206.8 L579.6 205.0 L580.1 203.0 L580.3 202.1 L580.6 200.5 L581.1 197.3 L581.6 193.9 L582.1 191.1 L582.2 190.7 L582.6 189.1 L583.1 186.7 L583.6 184.0 L584.1 180.7 L584.6 176.8 L585.1 172.0 L585.6 166.1 L586.1 158.8 L586.6 149.5 L587.1 137.9 L587.6 123.3 L588.1 105.2 L588.6 83.4 L589.1 58.9 L589.6 34.7 L590.1 18.5 L590.6 18.5 L591.1 18.5 L591.6 36.6 L592.1 61.7 L592.6 87.1 L593.1 109.8 L593.6 128.8 L594.1 144.2 L594.6 156.6 L595.1 166.6 L595.6 174.6 L596.1 181.1 L596.6 186.5 L597.1 190.9 L597.3 192.5 L597.6 194.6 L598.1 197.8 L598.6 200.4 L599.1 202.7 L599.6 204.7 L600.1 206.5 L600.3 207.1 L600.6 208.0 L601.1 209.4 L601.6 210.6 L602.1 211.8 L602.6 212.8 L603.1 213.7 L603.6 214.5 L604.1 215.2 L604.4 215.5 L604.6 215.7 L605.1 216.2 L605.6 216.7 L606.1 217.1 L606.6 217.4 L607.1 217.8 L607.6 218.1 L608.1 218.3 L608.6 218.6 L609.1 218.8 L609.6 219.1 L610.1 219.3 L610.6 219.5 L611.1 219.6 L611.3 219.7 L611.6 219.8 L612.1 220.0 L612.6 220.1 L613.1 220.3 L613.6 220.4 L614.1 220.5 L614.6 220.6 L615.1 220.7 L615.6 220.8 L616.1 220.9 L616.6 221.0 L617.1 221.1 L617.6 221.2 L618.1 221.3 L618.6 221.4 L619.1 221.5 L619.6 221.5 L620.1 221.6 L620.6 221.7 L621.1 221.7 L621.6 221.8 L621.8 221.8 L622.1 221.8 L622.6 221.9 L623.1 221.9 L623.6 222.0 L624.1 222.0 L624.6 222.1 L625.1 222.1 L625.6 222.2 L626.1 222.2 L626.6 222.2 L627.1 222.3 L627.6 222.3 L628.1 222.3 L628.6 222.4 L629.0 222.4 L629.1 222.4" stroke="#000000"/>
<path d="M365.1 226.0 L365.2 226.5 L366.1 224.1 L367.1 222.3 L368.1 220.5 L369.1 218.8 L370.1 216.6 L370.3 216.7 L371.1 214.9 L372.1 213.1 L373.1 211.5 L374.1 209.3 L375.1 206.9 L376.1 205.8 L376.6 203.8 L377.1 203.4 L378.1 201.4 L379.1 200.8 L380.1 197.8 L380.7 198.5 L381.1 196.9 L382.1 194.6 L383.1 192.9 L384.1 192.2 L384.9 190.0 L385.1 188.1 L386.1 187.7 L387.0 183.7 L387.1 185.0 L388.1 182.4 L389.1 180.0 L390.1 176.9 L391.1 175.9 L391.7 172.9 L392.1 174.3 L393.1 171.1 L394.1 169.7 L395.1 166.3 L396.1 166.1 L397.0 165.6 L397.1 162.0 L398.1 165.2 L399.1 162.8 L399.7 162.6 L400.1 162.8 L401.1 165.5 L401.7 165.9 L402.1 165.9 L403.1 166.0 L403.7 161.5 L404.1 161.8 L405.1 159.9 L405.7 159.0 L406.1 160.0 L407.0 163.7 L407.1 162.6 L408.1 163.8 L409.1 166.8 L409.7 166.1 L410.1 166.5 L411.1 169.4 L411.7 169.5 L412.1 169.8 L413.1 175.1 L413.7 173.7 L414.1 178.5 L415.0 179.8 L415.1 181.7 L416.1 190.0 L416.2 190.5 L417.1 192.5 L418.1 195.4 L419.1 196.6 L420.0 198.5 L420.1 197.5 L421.1 200.0 L422.1 200.2 L423.1 201.3 L424.1 201.2 L425.1 203.6 L425.7 202.6 L426.1 202.3 L427.1 204.0 L428.1 204.0 L429.1 203.4 L430.1 204.3 L431.1 203.9 L432.1 205.2 L433.1 204.3 L433.3 204.5 L434.1 204.5 L435.1 205.7 L436.1 204.2 L437.1 206.0 L438.1 205.8 L439.1 205.4 L440.1 205.2 L441.1 205.7 L442.1 205.6 L442.8 205.6 L443.1 205.6 L444.1 205.6 L445.1 204.2 L446.1 206.0 L447.1 204.1 L448.1 202.9 L448.6 203.3 L449.1 203.2 L450.1 200.7 L451.1 199.5 L452.1 198.6 L453.1 194.2 L453.3 194.7 L454.1 193.2 L455.1 191.7 L456.1 188.2 L457.1 187.5 L458.1 184.5 L459.1 184.5 L460.1 183.1 L460.3 183.3 L461.1 183.3 L462.1 184.3 L463.1 185.1 L463.8 188.3 L464.1 187.6 L465.1 187.7 L466.1 191.2 L467.1 192.1 L467.6 193.3 L468.1 194.0 L469.1 195.0 L470.1 196.8 L471.1 197.4 L471.4 197.6 L472.1 196.1 L473.0 193.6 L473.1 192.0 L474.1 188.0 L474.5 184.2 L475.1 177.8 L475.7 168.9 L476.1 165.7 L476.8 161.9 L477.1 159.1 L477.6 155.5 L478.1 152.9 L478.5 152.6 L479.1 150.2 L479.5 151.0 L480.1 151.2 L480.5 148.8 L481.1 156.4 L481.4 153.6 L482.1 157.5 L483.1 162.9 L483.3 164.7 L484.1 169.3 L485.1 175.5 L485.2 176.6 L486.1 185.5 L487.1 189.0 L488.1 195.0 L489.1 197.5 L490.0 200.7 L490.1 201.1 L491.1 202.2 L492.1 203.4 L493.1 203.9 L493.8 204.0 L494.1 205.9 L495.1 206.0 L496.1 206.2 L497.1 206.9 L497.6 206.9 L498.1 206.8 L499.1 206.2 L500.1 205.5 L501.1 203.9 L501.4 203.6 L502.1 203.7 L503.1 202.1 L504.1 202.5 L504.2 202.5 L505.1 202.1 L506.1 205.3 L507.1 205.1 L508.1 207.5 L509.1 211.1 L510.1 213.0 L510.9 214.2 L511.1 214.5 L512.1 216.1 L513.1 217.0 L514.1 217.8 L515.1 218.9 L516.1 219.8 L517.1 219.9 L517.5 220.2 L518.1 220.8 L519.1 220.5 L520.1 221.3 L521.1 221.2 L522.1 221.9 L523.1 221.9 L524.1 222.2 L525.1 222.1 L526.1 222.4 L527.0 222.6 L527.1 222.6 L528.1 222.7 L529.1 222.9 L529.6 222.9 L530.1 223.0 L530.6 223.0 L531.1 223.1 L531.6 223.1 L532.1 223.2 L532.6 223.2 L533.1 223.3 L533.6 223.3 L534.1 223.3 L534.6 223.4 L535.1 223.4 L535.6 223.5 L536.1 223.5 L536.6 223.5 L537.1 223.6 L537.6 223.6 L538.1 223.6 L538.6 223.7 L539.1 223.7 L539.6 223.7 L540.1 223.7 L540.6 223.8 L541.1 223.8 L541.6 223.8 L542.1 223.8 L542.6 223.9 L543.1 223.9 L543.6 223.9 L544.1 223.9 L544.6 223.9 L545.1 224.0 L545.6 224.0 L546.0 224.0 L546.1 224.0 L546.6 224.0 L547.1 224.0 L547.6 224.1 L548.1 224.1 L548.6 224.1 L549.1 224.1 L549.6 224.1 L550.1 224.1 L550.6 224.2 L551.1 224.2 L551.6 224.2 L552.1 224.2 L552.6 224.2 L553.1 224.2 L553.6 224.2 L554.1 224.2 L554.6 224.2 L555.1 224.2 L555.6 224.2 L556.1 224.2 L556.6 224.2 L557.1 224.2 L557.6 224.2 L558.1 224.2 L558.6 224.2 L559.1 224.2 L559.6 224.1 L560.1 224.1 L560.6 224.1 L561.1 224.1 L561.6 224.0 L562.1 224.0 L562.6 223.9 L563.1 223.9 L563.6 223.8 L564.1 223.8 L564.6 223.7 L565.1 223.6 L565.6 223.5 L566.1 223.4 L566.6 223.3 L567.1 223.2 L567.6 223.1 L568.1 222.9 L568.6 222.8 L569.1 222.6 L569.6 222.5 L570.1 222.3 L570.6 222.1 L571.1 221.9 L571.6 221.7 L572.1 221.4 L572.6 221.2 L572.7 221.1 L573.1 220.9 L573.6 220.5 L574.1 220.0 L574.6 219.5 L575.1 218.9 L575.6 218.2 L576.1 217.5 L576.6 216.8 L577.1 215.9 L577.4 215.4 L577.6 215.0 L578.1 214.1 L578.6 213.0 L579.1 211.7 L579.6 210.3 L580.1 208.6 L580.3 207.8 L580.6 206.3 L581.1 202.8 L581.6 198.6 L582.1 194.8 L582.5 192.6 L582.6 192.2 L583.1 189.8 L583.6 187.1 L584.1 183.8 L584.6 179.9 L585.1 175.2 L585.6 169.3 L586.1 162.0 L586.6 152.9 L587.1 141.3 L587.6 126.7 L588.1 108.7 L588.6 86.9 L589.1 62.4 L589.6 38.2 L590.1 19.6 L590.6 18.5 L591.1 20.8 L591.6 40.5 L592.1 65.8 L592.6 91.3 L593.1 114.1 L593.6 133.2 L594.1 148.7 L594.6 161.2 L595.1 171.1 L595.6 179.1 L596.1 185.6 L596.6 190.9 L597.1 195.2 L597.3 196.7 L597.6 198.8 L598.1 201.7 L598.6 204.3 L599.1 206.4 L599.6 208.2 L600.1 209.8 L600.3 210.3 L600.6 211.1 L601.1 212.2 L601.6 213.1 L602.1 214.0 L602.6 214.7 L603.1 215.4 L603.6 215.9 L604.1 216.5 L604.6 216.9 L605.1 217.4 L605.4 217.6 L605.6 217.8 L606.1 218.1 L606.6 218.5 L607.1 218.8 L607.6 219.0 L608.1 219.3 L608.6 219.5 L609.1 219.8 L609.6 220.0 L610.1 220.2 L610.6 220.3 L611.1 220.5 L611.6 220.6 L612.1 220.8 L612.6 220.9 L613.1 221.0 L613.4 221.1 L613.6 221.1 L614.1 221.3 L614.6 221.4 L615.1 221.5 L615.6 221.5 L616.1 221.6 L616.6 221.7 L617.1 221.8 L617.6 221.9 L618.1 222.0 L618.6 222.0 L619.1 222.1 L619.6 222.2 L620.1 222.2 L620.6 222.3 L621.1 222.4 L621.6 222.4 L622.1 222.5 L622.6 222.5 L623.1 222.6 L623.6 222.7 L624.1 222.7 L624.6 222.8 L625.1 222.8 L625.6 222.9 L626.1 222.9 L626.6 223.0 L627.1 223.0 L627.6 223.1 L628.1 223.1 L628.6 223.2 L629.0 223.2 L629.1 223.2" stroke="#ff0000"/>
<path d="M365.1 226.6 L365.2 226.6 L366.1 225.5 L367.1 224.0 L368.1 222.9 L369.1 221.2 L370.1 219.7 L371.1 219.0 L372.1 217.3 L372.4 216.6 L373.1 215.8 L374.1 214.4 L375.1 213.2 L376.1 211.1 L377.1 209.5 L378.1 209.0 L379.1 206.6 L380.1 205.9 L380.7 204.4 L381.1 204.2 L382.1 201.8 L383.1 201.3 L384.1 198.7 L385.1 197.8 L386.1 196.4 L387.1 196.2 L388.1 192.6 L389.1 191.5 L390.1 190.0 L391.1 189.6 L392.1 186.6 L393.0 186.0 L393.1 185.5 L394.1 182.9 L395.1 183.9 L396.1 181.0 L396.3 180.3 L397.1 180.2 L398.1 176.8 L398.3 176.5 L399.1 175.4 L399.7 175.2 L400.1 175.0 L401.1 174.5 L401.7 178.1 L402.1 174.6 L403.1 176.8 L403.7 177.3 L404.1 174.8 L405.1 177.8 L406.1 179.3 L406.3 177.3 L407.1 177.8 L408.1 178.9 L409.0 178.0 L409.1 179.1 L410.1 179.2 L411.0 180.5 L411.1 182.7 L412.1 184.5 L412.4 186.4 L413.1 187.9 L414.1 192.1 L415.1 194.1 L416.1 196.7 L416.2 196.4 L417.1 198.8 L418.1 202.4 L419.1 203.3 L420.0 204.0 L420.1 205.7 L421.1 205.3 L422.1 206.4 L423.1 206.7 L424.1 207.9 L425.1 208.6 L425.7 208.6 L426.1 208.6 L427.1 208.2 L428.1 209.6 L429.1 209.3 L430.1 209.2 L431.1 209.7 L432.1 209.8 L433.1 210.2 L434.1 209.7 L435.1 210.2 L435.2 209.5 L436.1 210.1 L437.1 210.3 L438.1 209.9 L439.1 210.5 L440.1 209.8 L441.1 210.5 L442.1 210.3 L442.8 210.4 L443.1 210.2 L444.1 210.9 L445.1 210.4 L446.1 209.5 L447.1 209.9 L447.5 209.2 L448.1 208.5 L449.1 209.9 L450.1 208.6 L450.5 208.1 L451.1 207.5 L452.1 206.2 L452.4 205.5 L453.1 204.0 L454.1 202.5 L455.1 201.4 L455.2 200.2 L456.1 198.5 L457.1 196.9 L457.5 195.0 L458.1 194.9 L459.1 192.2 L460.0 191.6 L460.1 191.6 L461.1 192.4 L462.1 192.8 L463.1 195.3 L463.8 195.0 L464.1 194.8 L465.1 198.3 L466.1 197.8 L467.1 201.8 L467.6 200.5 L468.1 202.7 L469.1 202.7 L470.1 204.2 L470.4 204.3 L471.1 203.6 L472.1 202.0 L472.3 202.5 L473.1 200.4 L474.1 196.9 L474.2 197.0 L475.1 188.5 L475.5 186.9 L476.1 180.3 L476.6 176.7 L477.1 171.6 L477.6 169.0 L478.1 164.5 L479.1 164.6 L479.5 164.1 L480.1 165.1 L481.1 168.7 L481.4 168.9 L482.1 172.1 L482.8 174.7 L483.1 176.8 L484.1 181.9 L484.3 183.9 L485.1 188.3 L486.1 193.3 L486.2 196.0 L487.1 198.8 L488.1 201.0 L489.0 202.9 L489.1 204.8 L490.1 205.2 L491.1 207.3 L492.1 208.8 L492.8 208.1 L493.1 209.2 L494.1 209.5 L495.1 210.4 L496.1 210.1 L497.1 210.7 L497.6 210.7 L498.1 210.7 L499.1 210.6 L500.1 209.2 L501.1 209.8 L501.4 209.7 L502.1 209.8 L503.1 210.2 L504.1 210.6 L505.1 210.8 L505.2 211.4 L506.1 212.0 L507.1 213.3 L508.0 214.1 L508.1 214.6 L509.1 215.7 L510.1 217.0 L511.1 218.0 L511.8 217.9 L512.1 218.4 L513.1 219.3 L514.1 219.6 L515.1 220.2 L516.1 220.7 L517.1 221.1 L518.1 221.8 L519.1 221.7 L519.4 222.5 L520.1 222.1 L521.1 222.7 L522.1 222.9 L523.1 223.2 L524.1 223.6 L525.1 224.0 L526.1 224.2 L527.1 224.3 L528.1 224.6 L529.1 224.8 L529.6 224.8 L530.1 224.9 L530.6 225.0 L530.8 225.0 L531.1 225.0 L531.6 225.1 L532.1 225.1 L532.6 225.2 L533.1 225.2 L533.6 225.3 L534.1 225.3 L534.6 225.3 L535.1 225.4 L535.6 225.4 L536.1 225.4 L536.6 225.4 L537.1 225.5 L537.6 225.5 L538.1 225.5 L538.6 225.5 L539.1 225.6 L539.6 225.6 L540.1 225.6 L540.6 225.6 L541.1 225.6 L541.6 225.6 L542.1 225.7 L542.6 225.7 L543.1 225.7 L543.6 225.7 L544.1 225.7 L544.6 225.8 L545.1 225.8 L545.6 225.8 L546.0 225.8 L546.1 225.8 L546.6 225.8 L547.1 225.8 L547.6 225.9 L548.1 225.9 L548.6 225.9 L549.1 225.9 L549.6 225.9 L550.1 226.0 L550.6 226.0 L551.1 226.0 L551.6 226.0 L552.1 226.0 L552.6 226.0 L553.1 226.0 L553.6 226.1 L554.1 226.1 L554.6 226.1 L555.1 226.1 L555.6 226.1 L556.1 226.1 L556.6 226.1 L557.1 226.1 L557.6 226.1 L558.1 226.1 L558.6 226.1 L559.1 226.1 L559.6 226.0 L560.1 226.0 L560.6 226.0 L561.1 226.0 L561.6 225.9 L562.1 225.9 L562.6 225.9 L563.1 225.8 L563.6 225.8 L564.1 225.7 L564.6 225.7 L565.1 225.6 L565.6 225.5 L566.1 225.5 L566.6 225.4 L567.1 225.3 L567.6 225.2 L568.1 225.1 L568.6 225.0 L569.1 224.8 L569.6 224.7 L570.1 224.6 L570.6 224.4 L571.1 224.2 L571.6 224.1 L572.1 223.9 L572.6 223.6 L572.7 223.6 L573.1 223.4 L573.6 223.1 L574.1 222.7 L574.6 222.2 L575.1 221.6 L575.6 221.0 L576.1 220.4 L576.6 219.6 L577.1 218.8 L577.4 218.3 L577.6 217.9 L578.1 216.8 L578.6 215.5 L579.1 214.0 L579.6 212.3 L580.1 210.5 L580.3 209.7 L580.6 208.4 L581.1 206.0 L581.6 203.1 L582.1 200.2 L582.6 197.3 L583.1 194.5 L583.6 191.6 L584.1 188.2 L584.6 184.2 L585.1 179.2 L585.6 173.1 L586.1 165.5 L586.6 156.1 L587.1 144.2 L587.6 129.3 L588.1 110.8 L588.6 88.7 L589.1 63.8 L589.6 39.1 L590.1 20.2 L590.6 18.5 L591.1 20.8 L591.6 40.3 L592.1 65.6 L592.6 91.1 L593.1 113.8 L593.6 132.8 L594.1 148.3 L594.6 160.7 L595.1 170.6 L595.6 178.7 L596.1 185.2 L596.6 190.6 L597.1 195.0 L597.6 198.7 L598.1 201.9 L598.3 203.0 L598.6 204.6 L599.1 206.9 L599.6 209.0 L600.1 210.9 L600.6 212.5 L601.1 213.8 L601.4 214.4 L601.6 214.8 L602.1 215.7 L602.6 216.4 L603.1 217.1 L603.6 217.7 L604.1 218.2 L604.6 218.7 L605.1 219.1 L605.6 219.5 L606.1 219.9 L606.6 220.2 L607.1 220.5 L607.5 220.7 L607.6 220.8 L608.1 221.0 L608.6 221.2 L609.1 221.4 L609.6 221.6 L610.1 221.8 L610.6 222.0 L611.1 222.1 L611.6 222.3 L612.1 222.4 L612.6 222.5 L613.1 222.7 L613.6 222.8 L614.1 222.9 L614.6 223.0 L615.1 223.0 L615.6 223.1 L616.1 223.2 L616.6 223.3 L617.1 223.4 L617.6 223.4 L618.1 223.5 L618.6 223.5 L619.1 223.6 L619.6 223.6 L620.1 223.7 L620.6 223.7 L621.1 223.8 L621.6 223.8 L622.1 223.9 L622.6 223.9 L623.1 223.9 L623.6 224.0 L624.1 224.0 L624.6 224.1 L625.1 224.1 L625.6 224.1 L626.1 224.1 L626.6 224.2 L627.1 224.2 L627.6 224.2 L628.1 224.3 L628.6 224.3 L629.0 224.3 L629.1 224.3" stroke="#0000ff"/>
<path d="M365.1 227.7 L365.2 227.6 L366.1 226.4 L367.1 225.6 L368.1 223.9 L369.1 223.0 L370.1 221.4 L371.1 220.4 L372.1 219.1 L372.4 218.9 L373.1 218.2 L374.1 216.6 L375.1 215.3 L376.1 214.9 L377.1 212.8 L378.1 212.0 L379.1 210.1 L380.1 210.0 L380.7 208.4 L381.1 207.7 L382.1 206.5 L383.1 205.9 L384.1 203.0 L385.1 202.3 L386.1 200.7 L387.1 199.1 L388.1 197.4 L389.1 197.1 L390.1 192.8 L391.1 193.9 L392.1 192.2 L393.1 188.6 L393.4 188.0 L394.1 188.8 L395.1 184.9 L396.1 184.1 L397.0 184.7 L397.1 184.7 L398.1 181.5 L399.1 178.9 L399.7 181.2 L400.1 180.7 L401.1 179.8 L402.1 179.2 L402.3 179.3 L403.1 179.3 L404.1 179.5 L405.1 181.8 L406.1 180.9 L406.3 182.1 L407.1 181.1 L408.1 183.1 L409.1 183.2 L409.7 181.1 L410.1 184.7 L411.1 185.4 L412.0 186.5 L412.1 188.7 L413.1 191.3 L414.1 193.6 L414.3 194.7 L415.1 195.2 L416.1 199.0 L417.1 199.6 L418.1 203.2 L419.1 204.3 L420.1 205.9 L421.1 206.9 L421.9 208.2 L422.1 207.8 L423.1 209.7 L424.1 209.8 L425.1 210.1 L426.1 211.8 L427.1 211.5 L427.6 211.5 L428.1 212.1 L429.1 212.5 L430.1 212.9 L431.1 211.2 L432.1 212.9 L433.0 212.3 L433.1 213.0 L434.1 212.0 L435.1 212.9 L436.1 212.8 L437.1 213.1 L438.1 212.7 L439.0 212.8 L439.1 212.8 L440.1 213.3 L441.1 212.6 L442.1 212.6 L443.1 213.1 L444.1 212.3 L445.1 212.3 L446.1 212.7 L446.7 212.5 L447.1 212.4 L448.1 211.6 L449.1 212.3 L450.1 210.7 L451.1 210.2 L452.1 209.1 L452.4 209.1 L453.1 208.5 L454.1 205.0 L455.1 204.3 L456.1 202.1 L457.1 199.5 L458.1 197.4 L459.1 196.2 L460.0 195.8 L460.1 195.6 L461.1 197.2 L462.1 197.0 L462.8 196.9 L463.1 197.2 L464.1 199.5 L465.1 200.3 L466.1 200.7 L467.1 203.6 L467.6 202.9 L468.1 203.9 L469.1 205.0 L470.1 206.7 L471.0 207.1 L471.1 207.0 L472.1 206.3 L472.9 202.6 L473.1 202.8 L473.8 195.9 L474.1 192.6 L474.8 185.8 L475.1 182.8 L475.7 179.0 L476.1 175.1 L477.0 170.5 L477.1 170.7 L478.0 168.2 L478.1 167.9 L479.1 170.3 L479.3 172.7 L480.1 172.9 L480.5 174.0 L481.1 178.4 L482.1 181.5 L483.1 187.4 L483.3 186.5 L484.1 192.2 L485.1 197.9 L485.2 197.6 L486.1 202.2 L487.1 204.7 L488.1 206.0 L489.1 209.6 L490.1 209.5 L491.1 211.9 L492.1 211.8 L492.8 211.9 L493.1 213.1 L494.1 213.6 L495.1 212.8 L496.1 214.7 L497.1 214.3 L498.1 214.4 L498.5 215.0 L499.1 213.9 L500.1 214.2 L501.1 214.6 L502.1 214.5 L503.1 214.6 L503.3 214.2 L504.1 215.8 L505.1 214.5 L506.1 215.6 L507.1 217.0 L508.1 216.9 L509.1 218.5 L510.1 219.5 L510.9 220.2 L511.1 220.2 L512.1 220.9 L513.1 221.7 L514.1 221.7 L515.1 222.2 L516.1 222.5 L517.1 223.0 L517.5 222.8 L518.1 223.1 L519.1 223.4 L520.1 223.6 L521.1 224.0 L522.1 224.5 L523.1 224.6 L524.1 224.8 L525.1 225.0 L526.1 225.3 L527.1 225.4 L528.1 225.6 L529.1 225.8 L529.6 225.9 L530.1 225.9 L530.6 226.0 L530.8 226.0 L531.1 226.0 L531.6 226.1 L532.1 226.1 L532.6 226.1 L533.1 226.2 L533.6 226.2 L534.1 226.3 L534.6 226.3 L535.1 226.3 L535.6 226.3 L536.1 226.4 L536.6 226.4 L537.1 226.4 L537.6 226.4 L538.1 226.4 L538.6 226.5 L539.1 226.5 L539.6 226.5 L540.1 226.5 L540.6 226.5 L541.1 226.5 L541.6 226.6 L542.1 226.6 L542.6 226.6 L543.1 226.6 L543.6 226.6 L544.1 226.6 L544.6 226.7 L545.1 226.7 L545.6 226.7 L546.0 226.7 L546.1 226.7 L546.6 226.7 L547.1 226.7 L547.6 226.8 L548.1 226.8 L548.6 226.8 L549.1 226.8 L549.6 226.8 L550.1 226.8 L550.6 226.8 L551.1 226.8 L551.6 226.9 L552.1 226.9 L552.6 226.9 L553.1 226.9 L553.6 226.9 L554.1 226.9 L554.6 226.9 L555.1 226.9 L555.6 226.9 L556.1 226.9 L556.6 226.9 L557.1 226.9 L557.6 226.9 L558.1 226.9 L558.6 226.9 L559.1 226.9 L559.6 226.8 L560.1 226.8 L560.6 226.8 L561.1 226.8 L561.6 226.8 L562.1 226.7 L562.6 226.7 L563.1 226.7 L563.6 226.6 L564.1 226.6 L564.6 226.5 L565.1 226.5 L565.6 226.4 L566.1 226.4 L566.6 226.3 L567.1 226.3 L567.6 226.2 L568.1 226.1 L568.6 226.0 L569.1 225.9 L569.6 225.8 L570.1 225.7 L570.6 225.6 L571.1 225.4 L571.6 225.3 L572.1 225.1 L572.6 224.8 L572.7 224.8 L573.1 224.6 L573.6 224.3 L574.1 223.9 L574.6 223.5 L575.1 223.1 L575.6 222.5 L576.1 222.0 L576.6 221.3 L577.1 220.6 L577.4 220.2 L577.6 219.9 L578.1 219.0 L578.6 217.9 L579.1 216.7 L579.6 215.3 L580.1 213.8 L580.6 212.0 L581.1 210.1 L581.2 209.7 L581.6 207.8 L582.1 205.0 L582.6 201.8 L583.1 198.5 L583.6 195.2 L583.7 194.5 L584.1 191.7 L584.6 187.5 L585.1 182.5 L585.6 176.3 L586.1 168.6 L586.6 159.0 L587.1 146.9 L587.6 131.8 L588.1 113.1 L588.6 90.7 L589.1 65.5 L589.6 40.6 L590.1 21.5 L590.6 18.5 L591.1 21.8 L591.6 41.3 L592.1 66.6 L592.6 92.1 L593.1 114.8 L593.6 133.9 L594.1 149.3 L594.6 161.7 L595.1 171.6 L595.6 179.6 L596.1 186.0 L596.6 191.4 L597.1 195.8 L597.6 199.5 L598.1 202.6 L598.6 205.2 L599.0 207.1 L599.1 207.5 L599.6 209.6 L600.1 211.5 L600.6 213.2 L601.1 214.7 L601.6 216.0 L602.1 217.1 L602.4 217.6 L602.6 217.9 L603.1 218.6 L603.6 219.2 L604.1 219.7 L604.6 220.2 L605.1 220.6 L605.6 220.9 L606.1 221.2 L606.6 221.5 L607.1 221.8 L607.6 222.0 L608.1 222.2 L608.6 222.4 L609.1 222.6 L609.6 222.8 L610.1 223.0 L610.6 223.1 L611.1 223.3 L611.6 223.4 L612.1 223.6 L612.6 223.7 L613.1 223.8 L613.6 223.9 L614.1 224.0 L614.6 224.1 L615.1 224.2 L615.6 224.3 L616.1 224.4 L616.6 224.5 L617.1 224.5 L617.6 224.6 L618.1 224.7 L618.6 224.7 L619.1 224.8 L619.6 224.8 L620.1 224.9 L620.6 224.9 L621.1 225.0 L621.6 225.0 L622.1 225.1 L622.6 225.1 L623.1 225.1 L623.6 225.2 L624.1 225.2 L624.6 225.2 L625.1 225.3 L625.6 225.3 L626.1 225.3 L626.6 225.4 L627.1 225.4 L627.6 225.4 L628.1 225.5 L628.6 225.5 L629.0 225.5 L629.1 225.5" stroke="#ff00ff"/></g>
<line x1="195.9" y1="26.0" x2="220.5" y2="26.0" stroke="#000000" class="lg"/>
<text x="223.8" y="30.0" class="lt">0%/5%</text>
<line x1="195.9" y1="39.6" x2="220.5" y2="39.6" stroke="#ff0000" class="lg"/>
<text x="223.8" y="43.6" class="lt">5%/5%</text>
<line x1="195.9" y1="53.2" x2="220.5" y2="53.2" stroke="#0000ff" class="lg"/>
<text x="223.8" y="57.2" class="lt">10%/5%</text>
<line x1="195.9" y1="66.8" x2="220.5" y2="66.8" stroke="#ff00ff" class="lg"/>
<text x="223.8" y="70.8" class="lt">15%/5%</text>
<line x1="499.6" y1="26.0" x2="524.2" y2="26.0" stroke="#000000" class="lg"/>
<text x="527.5" y="30.0" class="lt">0%/20%</text>
<line x1="499.6" y1="39.6" x2="524.2" y2="39.6" stroke="#ff0000" class="lg"/>
<text x="527.5" y="43.6" class="lt">5%/20%</text>
<line x1="499.6" y1="53.2" x2="524.2" y2="53.2" stroke="#0000ff" class="lg"/>
<text x="527.5" y="57.2" class="lt">10%/20%</text>
<line x1="499.6" y1="66.8" x2="524.2" y2="66.8" stroke="#ff00ff" class="lg"/>
<text x="527.5" y="70.8" class="lt">15%/20%</text>
<text x="179.0" y="260.8" class="at" style="font-size:11px" text-anchor="middle">Frequency(THz)</text>
<text x="497.2" y="260.6" class="at" style="font-size:11px" text-anchor="middle">Frequency(THz)</text>
<text transform="translate(16.7 119.1) rotate(-90)" class="at" text-anchor="middle">Phonon DOS(arb.)</text>
<text transform="translate(335.6 120.0) rotate(-90)" class="at" text-anchor="middle">Phonon DOS(arb.)</text>
<text x="0" y="13.8" class="pl">(a)</text>
<text x="322.9" y="13.4" class="pl">(b)</text>
</svg>
</body></html>
